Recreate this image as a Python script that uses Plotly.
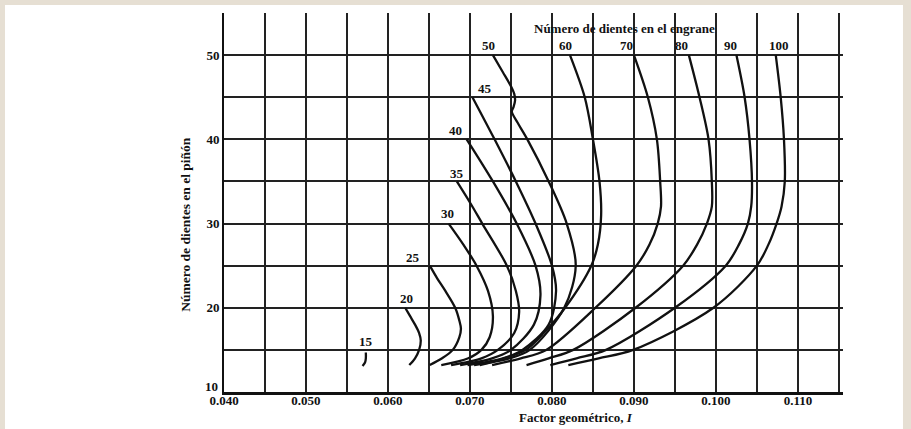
import plotly.graph_objects as go

# ---------------- data ----------------
x_tick_vals = [0.040, 0.045, 0.050, 0.055, 0.060, 0.065, 0.070, 0.075, 0.080,
               0.085, 0.090, 0.095, 0.100, 0.105, 0.110, 0.115]
x_tick_text = ["0.040", "", "0.050", "", "0.060", "", "0.070", "", "0.080",
               "", "0.090", "", "0.100", "", "0.110", ""]
y_tick_vals = [10, 15, 20, 25, 30, 35, 40, 45, 50, 55]
y_tick_text = ["", "", "20", "", "30", "", "40", "", "50", ""]
# the bottom "10" label sits a little above its grid line in the reference
y_bottom_label = "10"
y_bottom_label_y = 10.7

# curves: number of gear teeth; y = pinion teeth, x = geometry factor I
N_15 = [14.7, 14.0, 13.5, 13.1]
I_15 = [0.0573, 0.0573, 0.0572, 0.0569]

N_20 = [20.0, 19.0, 18.0, 17.0, 16.1, 15.0, 14.0, 13.2]
I_20 = [0.0621, 0.0627, 0.0633, 0.0638, 0.0640, 0.0638, 0.0633, 0.0626]

N_25 = [25.0, 23.5, 22.0, 20.0, 18.5, 17.5, 16.5, 15.0, 14.0, 13.2]
I_25 = [0.0651, 0.0660, 0.0670, 0.0682, 0.0687, 0.0689, 0.0687, 0.0679, 0.0666, 0.0651]

N_30 = [30.0, 27.5, 25.0, 22.0, 19.0, 16.5, 15.0, 14.0, 13.2]
I_30 = [0.0674, 0.0692, 0.0708, 0.0722, 0.0728, 0.0724, 0.0714, 0.0698, 0.0665]

N_35 = [35.0, 32.5, 30.0, 25.0, 22.0, 19.5, 17.0, 15.0, 14.0, 13.2]
I_35 = [0.0684, 0.0700, 0.0715, 0.0745, 0.0756, 0.0760, 0.0754, 0.0734, 0.0714, 0.0677]

N_40 = [40.0, 35.0, 30.0, 25.0, 21.5, 18.0, 15.0, 14.0, 13.2]
I_40 = [0.0696, 0.0728, 0.0757, 0.0780, 0.0786, 0.0778, 0.0750, 0.0727, 0.0688]

N_45 = [45.0, 40.0, 35.0, 30.0, 25.0, 22.0, 18.0, 15.0, 14.0, 13.2]
I_45 = [0.0703, 0.0730, 0.0756, 0.0780, 0.0800, 0.0805, 0.0796, 0.0764, 0.0740, 0.0697]

N_50 = [50.0, 48.0, 46.3, 45.4, 44.6, 43.8, 43.3, 42.0, 40.0, 35.0, 30.0, 25.0, 20.0,
        15.0, 14.0, 13.2]
I_50 = [0.0728, 0.0740, 0.0750, 0.0754, 0.0755, 0.0753, 0.0751, 0.0758, 0.0770, 0.0796,
        0.0818, 0.0829, 0.0815, 0.0773, 0.0748, 0.0705]

N_60 = [50.0, 45.0, 40.0, 35.0, 31.0, 27.5, 25.0, 20.0, 17.0, 15.0, 14.0, 13.2]
I_60 = [0.0822, 0.0840, 0.0850, 0.0858, 0.0860, 0.0856, 0.0848, 0.0816, 0.0790, 0.0768,
        0.0742, 0.0712]

N_70 = [50.0, 45.0, 40.0, 35.0, 32.0, 30.0, 27.5, 25.0, 20.0, 15.0, 14.0, 13.2]
I_70 = [0.0900, 0.0917, 0.0928, 0.0932, 0.0933, 0.0929, 0.0919, 0.0903, 0.0853, 0.0793,
        0.0762, 0.0727]

N_80 = [50.0, 45.0, 40.0, 35.0, 32.0, 30.0, 27.5, 25.0, 20.0, 15.0, 14.0, 13.2]
I_80 = [0.0967, 0.0980, 0.0991, 0.0995, 0.0995, 0.0989, 0.0977, 0.0960, 0.0902, 0.0826,
        0.0796, 0.0769]

N_90 = [50.0, 45.0, 40.0, 35.0, 32.0, 30.0, 27.5, 25.0, 20.0, 15.0, 14.0, 13.2]
I_90 = [0.1025, 0.1035, 0.1041, 0.1044, 0.1043, 0.1039, 0.1028, 0.1012, 0.0950, 0.0866,
        0.0830, 0.0798]

N_100 = [50.0, 45.0, 40.0, 35.0, 32.0, 30.0, 27.5, 25.0, 20.0, 15.0, 14.0, 13.2]
I_100 = [0.1073, 0.1079, 0.1083, 0.1084, 0.1080, 0.1074, 0.1064, 0.1050, 0.0997, 0.0899,
         0.0857, 0.0820]

curves = [(N_15, I_15), (N_20, I_20), (N_25, I_25), (N_30, I_30), (N_35, I_35),
          (N_40, I_40), (N_45, I_45), (N_50, I_50), (N_60, I_60), (N_70, I_70),
          (N_80, I_80), (N_90, I_90), (N_100, I_100)]

# labels at the start of the pinion-limited curves
pinion_labels = ["15", "20", "25", "30", "35", "40", "45"]
pinion_label_x = [0.0573, 0.0623, 0.0630, 0.0673, 0.0684, 0.0682, 0.0718]
pinion_label_y = [16.0, 21.1, 26.0, 31.2, 36.0, 41.1, 46.0]

# labels along the top for gear teeth
gear_labels = ["50", "60", "70", "80", "90", "100"]
gear_label_x = [0.0722, 0.0816, 0.0891, 0.0958, 0.1018, 0.1077]
gear_label_y = [51.1, 51.1, 51.1, 51.1, 51.1, 51.1]

# ---------------- figure ----------------
FONT = "Liberation Serif"
fig = go.Figure()

for ny, ix in curves:
    fig.add_trace(go.Scatter(
        x=ix, y=ny, mode="lines",
        line=dict(color="#111111", width=2.3, shape="spline", smoothing=0.9),
        hoverinfo="skip", showlegend=False))

lab_font = dict(family=FONT, size=13, color="#111", weight="bold")
for t, x, y in zip(pinion_labels, pinion_label_x, pinion_label_y):
    fig.add_annotation(x=x, y=y, text=t, showarrow=False, font=lab_font,
                       xanchor="center", yanchor="middle")
for t, x, y in zip(gear_labels, gear_label_x, gear_label_y):
    fig.add_annotation(x=x, y=y, text=t, showarrow=False, font=lab_font,
                       xanchor="center", yanchor="middle")

fig.add_annotation(xref="paper", yref="y", x=-0.0065, y=y_bottom_label_y,
                   xanchor="right", yanchor="middle", text=y_bottom_label,
                   showarrow=False, font=lab_font)

fig.add_annotation(xref="paper", yref="paper", x=0.6478, y=0.9604,
                   xanchor="center", yanchor="middle",
                   text="Número de dientes en el engrane", showarrow=False, font=lab_font)
fig.add_annotation(xref="paper", yref="paper", x=0.5687, y=-0.068,
                   xanchor="center", yanchor="middle",
                   text="Factor geométrico, <i>I</i>", showarrow=False, font=lab_font)
fig.add_annotation(xref="paper", yref="paper", x=-0.0612, y=0.4415,
                   xanchor="center", yanchor="middle",
                   text="Número de dientes en el piñón", showarrow=False, textangle=-90,
                   font=dict(family=FONT, size=13.5, color="#111", weight="bold"))

# white page area over the beige surround
fig.add_shape(type="rect", xref="paper", yref="paper",
              x0=-0.3538, x1=1.0969, y0=-0.2, y1=1.0211,
              fillcolor="white", line=dict(width=0), layer="below")

fig.update_layout(
    width=911, height=429,
    margin=dict(l=224, r=68, t=13, b=37),
    paper_bgcolor="#e6dfd3",
    plot_bgcolor="white",
    font=dict(family=FONT, size=13, color="#111", weight="bold"),
    showlegend=False,
)
fig.update_xaxes(range=[0.040, 0.1155], tickvals=x_tick_vals, ticktext=x_tick_text,
                 showgrid=True, gridcolor="#222222", gridwidth=1.5,
                 showline=True, linecolor="#111111", linewidth=3,
                 zeroline=False, ticks="", ticklabelstandoff=-6,
                 tickfont=dict(family=FONT, size=13, weight="bold"))
fig.update_yaxes(range=[10, 55], tickvals=y_tick_vals, ticktext=y_tick_text,
                 showgrid=True, gridcolor="#222222", gridwidth=1.5,
                 showline=True, linecolor="#111111", linewidth=2,
                 zeroline=False, ticks="",
                 tickfont=dict(family=FONT, size=13, weight="bold"))

fig.write_html("out.html")
